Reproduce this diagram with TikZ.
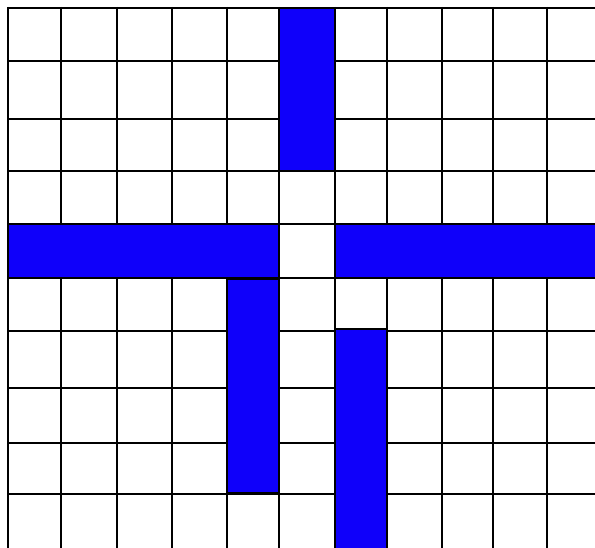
\documentclass[tikz,border=0pt]{standalone}
\definecolor{barblue}{RGB}{15,0,250}
\begin{document}
\begin{tikzpicture}[
    x=1pt, y=-1pt,
    gridline/.style={draw=black, line width=1.2pt},
    bar/.style={fill=barblue, draw=black, line width=1.2pt}
]
\useasboundingbox (0,0) rectangle (595,548);
\clip (0,0) rectangle (595,548);

% grid
\foreach \x in {8,61,117,172,227,279,335,387,442,493,547}
    \draw[gridline] (\x,7) -- (\x,550);
\foreach \y in {8,61,119,171,224,278,331,388,443,494}
    \draw[gridline] (8,\y) -- (597,\y);

% blue bars
\draw[bar] (279,8) rectangle (335,171);
\draw[bar] (8,224) rectangle (279,278);
\draw[bar] (335,224) rectangle (600,278);
\draw[bar] (227,279) rectangle (279,493);
\draw[bar] (335,329) rectangle (387,552);

\end{tikzpicture}
\end{document}
